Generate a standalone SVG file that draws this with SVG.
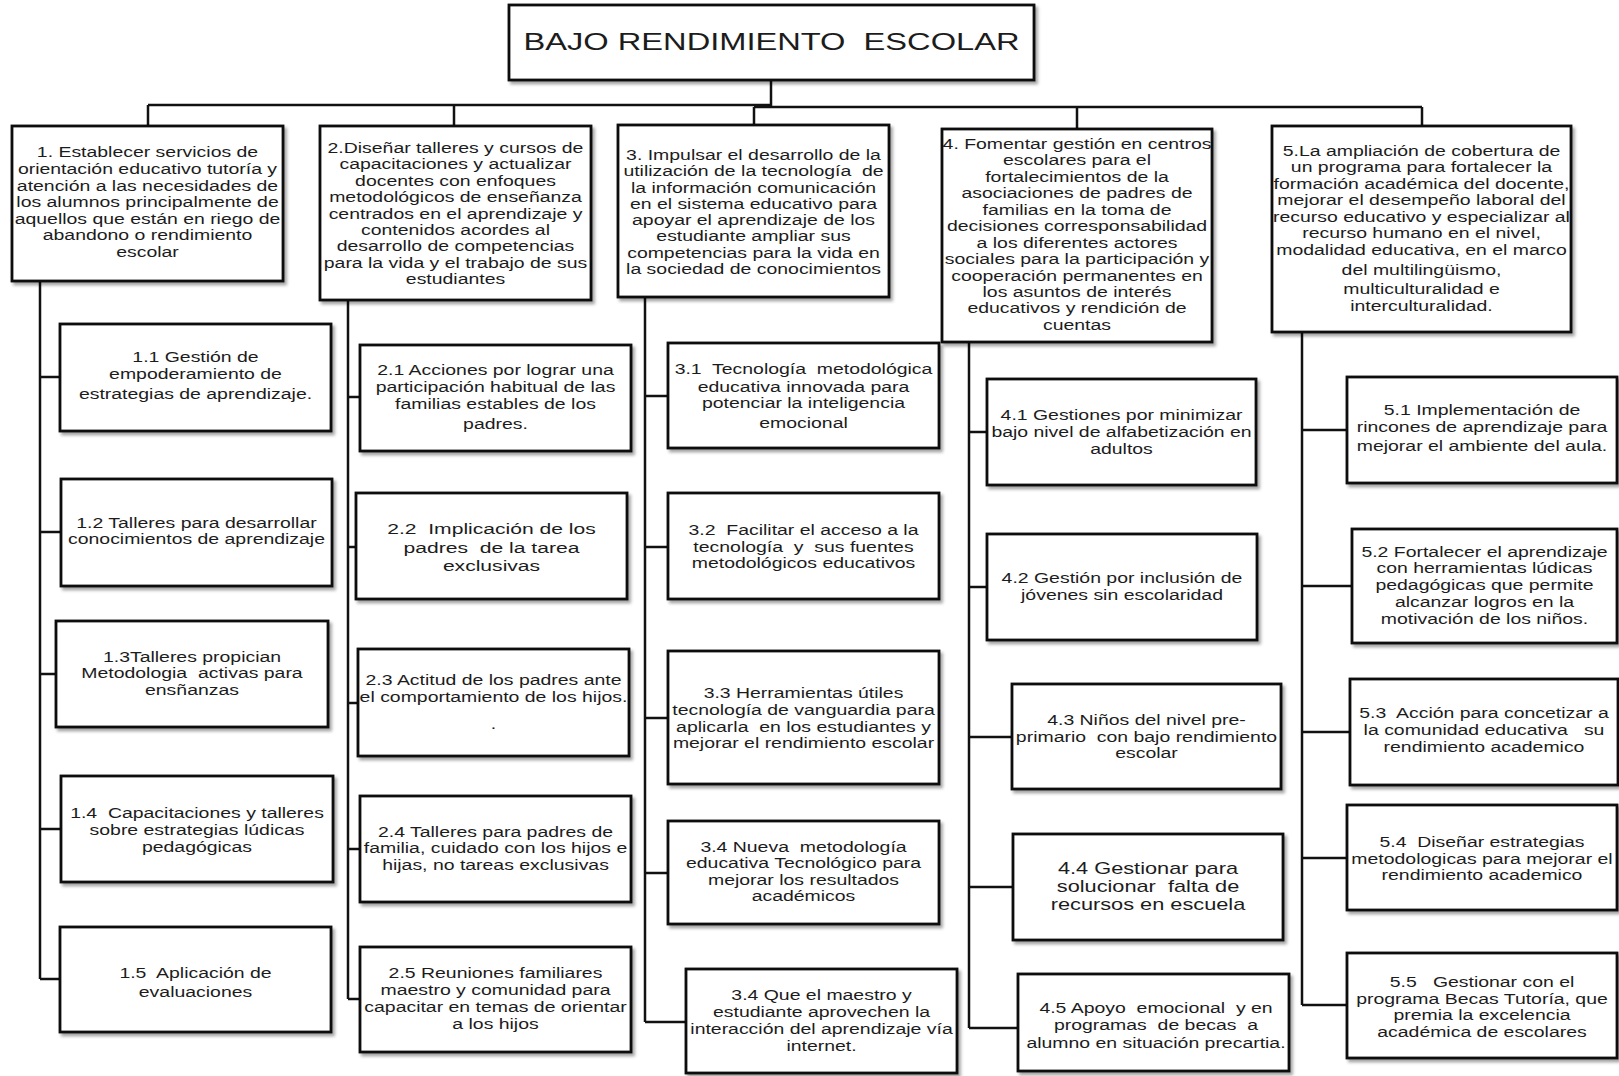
<svg xmlns="http://www.w3.org/2000/svg" width="1619" height="1076" viewBox="0 0 1619 1076">
<style>
.bx{fill:#fff;stroke:#111;stroke-width:2.8;filter:url(#sh)}
.ln{fill:none;stroke:#111;stroke-width:2.5}
text{font-family:"Liberation Sans",Arial,sans-serif;font-size:14.3px;fill:#1c1c1c;text-anchor:middle;white-space:pre}
.t1{font-size:24px}
.big{font-size:15.5px}
.big2{font-size:16px}
</style>
<defs>
<filter id="sh" x="-5%" y="-5%" width="115%" height="120%">
<feDropShadow dx="2.5" dy="3" stdDeviation="1.5" flood-color="#000" flood-opacity="0.35"/>
</filter>
</defs>
<rect width="1619" height="1076" fill="#fff"/>

<g id="connectors">
<path class="ln" d="M771,80V107M148,105H771M754,107H1422M148,105V126M454,105V126M754,107V125M1077,107V129M1422,107V126"/>
<path class="ln" d="M40,281V979M40,377H60M40,532H61M40,674H56M40,829H61M40,979H60"/>
<path class="ln" d="M348,300V999M348,397H360M348,547H356M348,703H358M348,849H360M348,999H360"/>
<path class="ln" d="M645,297V1022M645,396H668M645,547H668M645,718H668M645,873H668M645,1022H686"/>
<path class="ln" d="M969,342V1028M969,432H987M969,587H987M969,737H1012M969,887H1013M969,1028H1018"/>
<path class="ln" d="M1302,332V1005M1302,430H1347M1302,586H1352M1302,732H1350M1302,858H1347M1302,1005H1347"/>
</g>

<g id="root">
<rect class="bx" x="509" y="5" width="525" height="75"/>
<g transform="translate(771.5,0) scale(1.36,1)"><text class="t1" x="0" y="50">BAJO RENDIMIENTO  ESCOLAR</text></g>
</g>

<g id="n1">
<rect class="bx" x="12" y="126" width="271" height="155"/>
<g transform="translate(147.5,0) scale(1.36,1)">
<text x="0" y="157">1. Establecer servicios de</text>
<text x="0" y="174">orientación educativo tutoría y</text>
<text x="0" y="191">atención a las necesidades de</text>
<text x="0" y="207">los alumnos principalmente de</text>
<text x="0" y="224">aquellos que están en riego de</text>
<text x="0" y="240">abandono o rendimiento</text>
<text x="0" y="257">escolar</text>
</g>
</g>

<g id="n2">
<rect class="bx" x="320" y="126" width="271" height="174"/>
<g transform="translate(455.5,0) scale(1.36,1)">
<text x="0" y="153">2.Diseñar talleres y cursos de</text>
<text x="0" y="169.4">capacitaciones y actualizar</text>
<text x="0" y="185.8">docentes con enfoques</text>
<text x="0" y="202.2">metodológicos de enseñanza</text>
<text x="0" y="218.6">centrados en el aprendizaje y</text>
<text x="0" y="235">contenidos acordes al</text>
<text x="0" y="251.4">desarrollo de competencias</text>
<text x="0" y="267.8">para la vida y el trabajo de sus</text>
<text x="0" y="284.2">estudiantes</text>
</g>
</g>

<g id="n3">
<rect class="bx" x="618" y="125" width="271" height="172"/>
<g transform="translate(753.5,0) scale(1.36,1)">
<text x="0" y="160">3. Impulsar el desarrollo de la</text>
<text x="0" y="176.3">utilización de la tecnología  de</text>
<text x="0" y="192.6">la información comunicación</text>
<text x="0" y="208.9">en el sistema educativo para</text>
<text x="0" y="225.2">apoyar el aprendizaje de los</text>
<text x="0" y="241.5">estudiante ampliar sus</text>
<text x="0" y="257.8">competencias para la vida en</text>
<text x="0" y="274.1">la sociedad de conocimientos</text>
</g>
</g>

<g id="n4">
<rect class="bx" x="942" y="129" width="270" height="213"/>
<g transform="translate(1077,0) scale(1.36,1)">
<text x="0" y="149">4. Fomentar gestión en centros</text>
<text x="0" y="165.45">escolares para el</text>
<text x="0" y="181.9">fortalecimientos de la</text>
<text x="0" y="198.35">asociaciones de padres de</text>
<text x="0" y="214.8">familias en la toma de</text>
<text x="0" y="231.25">decisiones corresponsabilidad</text>
<text x="0" y="247.7">a los diferentes actores</text>
<text x="0" y="264.15">sociales para la participación y</text>
<text x="0" y="280.6">cooperación permanentes en</text>
<text x="0" y="297.05">los asuntos de interés</text>
<text x="0" y="313.5">educativos y rendición de</text>
<text x="0" y="329.95">cuentas</text>
</g>
</g>

<g id="n5">
<rect class="bx" x="1272" y="126" width="299" height="206"/>
<g transform="translate(1421.5,0) scale(1.36,1)">
<text x="0" y="156">5.La ampliación de cobertura de</text>
<text x="0" y="172.5">un programa para fortalecer la</text>
<text x="0" y="189">formación académica del docente,</text>
<text x="0" y="205.5">mejorar el desempeño laboral del</text>
<text x="0" y="222">recurso educativo y especializar al</text>
<text x="0" y="238.5">recurso humano en el nivel,</text>
<text x="0" y="255">modalidad educativa, en el marco</text>
<text x="0" y="275">del multilingüismo,</text>
<text x="0" y="294">multiculturalidad e</text>
<text x="0" y="311">interculturalidad.</text>
</g>
</g>

<g id="n1_1">
<rect class="bx" x="60" y="324" width="271" height="107"/>
<g transform="translate(195.5,0) scale(1.36,1)">
<text x="0" y="362">1.1 Gestión de</text>
<text x="0" y="379">empoderamiento de</text>
<text x="0" y="399">estrategias de aprendizaje.</text>
</g>
</g>
<g id="n1_2">
<rect class="bx" x="61" y="479" width="271" height="107"/>
<g transform="translate(196.5,0) scale(1.36,1)">
<text x="0" y="528">1.2 Talleres para desarrollar</text>
<text x="0" y="544">conocimientos de aprendizaje</text>
</g>
</g>
<g id="n1_3">
<rect class="bx" x="56" y="621" width="272" height="106"/>
<g transform="translate(192,0) scale(1.36,1)">
<text x="0" y="662">1.3Talleres propician</text>
<text x="0" y="678.5">Metodologia  activas para</text>
<text x="0" y="695">ensñanzas</text>
</g>
</g>
<g id="n1_4">
<rect class="bx" x="61" y="776" width="272" height="106"/>
<g transform="translate(197,0) scale(1.36,1)">
<text x="0" y="818">1.4  Capacitaciones y talleres</text>
<text x="0" y="835">sobre estrategias lúdicas</text>
<text x="0" y="852">pedagógicas</text>
</g>
</g>
<g id="n1_5">
<rect class="bx" x="60" y="927" width="271" height="105"/>
<g transform="translate(195.5,0) scale(1.36,1)">
<text x="0" y="978">1.5  Aplicación de</text>
<text x="0" y="997">evaluaciones</text>
</g>
</g>

<g id="n2_1">
<rect class="bx" x="360" y="345" width="271" height="106"/>
<g transform="translate(495.5,0) scale(1.36,1)">
<text x="0" y="375">2.1 Acciones por lograr una</text>
<text x="0" y="392">participación habitual de las</text>
<text x="0" y="409">familias estables de los</text>
<text x="0" y="429">padres.</text>
</g>
</g>
<g id="n2_2">
<rect class="bx" x="356" y="493" width="271" height="106"/>
<g transform="translate(491.5,0) scale(1.36,1)">
<text class="big" x="0" y="534.5">2.2  Implicación de los</text>
<text class="big" x="0" y="553">padres  de la tarea</text>
<text class="big" x="0" y="571.5">exclusivas</text>
</g>
</g>
<g id="n2_3">
<rect class="bx" x="358" y="649" width="271" height="107"/>
<g transform="translate(493.5,0) scale(1.36,1)">
<text x="0" y="685">2.3 Actitud de los padres ante</text>
<text x="0" y="702">el comportamiento de los hijos.</text>
<text x="0" y="729">.</text>
</g>
</g>
<g id="n2_4">
<rect class="bx" x="360" y="796" width="271" height="106"/>
<g transform="translate(495.5,0) scale(1.36,1)">
<text x="0" y="837">2.4 Talleres para padres de</text>
<text x="0" y="853.5">familia, cuidado con los hijos e</text>
<text x="0" y="870">hijas, no tareas exclusivas</text>
</g>
</g>
<g id="n2_5">
<rect class="bx" x="360" y="947" width="271" height="105"/>
<g transform="translate(495.5,0) scale(1.36,1)">
<text x="0" y="978">2.5 Reuniones familiares</text>
<text x="0" y="995">maestro y comunidad para</text>
<text x="0" y="1012">capacitar en temas de orientar</text>
<text x="0" y="1029">a los hijos</text>
</g>
</g>

<g id="n3_1">
<rect class="bx" x="668" y="343" width="271" height="105"/>
<g transform="translate(803.5,0) scale(1.36,1)">
<text x="0" y="374">3.1  Tecnología  metodológica</text>
<text x="0" y="392">educativa innovada para</text>
<text x="0" y="408">potenciar la inteligencia</text>
<text x="0" y="428">emocional</text>
</g>
</g>
<g id="n3_2">
<rect class="bx" x="668" y="493" width="271" height="106"/>
<g transform="translate(803.5,0) scale(1.36,1)">
<text x="0" y="535">3.2  Facilitar el acceso a la</text>
<text x="0" y="552">tecnología  y  sus fuentes</text>
<text x="0" y="568">metodológicos educativos</text>
</g>
</g>
<g id="n3_3">
<rect class="bx" x="668" y="651" width="271" height="133"/>
<g transform="translate(803.5,0) scale(1.36,1)">
<text x="0" y="698">3.3 Herramientas útiles</text>
<text x="0" y="715">tecnología de vanguardia para</text>
<text x="0" y="732">aplicarla  en los estudiantes y</text>
<text x="0" y="748.5">mejorar el rendimiento escolar</text>
</g>
</g>
<g id="n3_4a">
<rect class="bx" x="668" y="821" width="271" height="103"/>
<g transform="translate(803.5,0) scale(1.36,1)">
<text x="0" y="852">3.4 Nueva  metodología</text>
<text x="0" y="868.5">educativa Tecnológico para</text>
<text x="0" y="885">mejorar los resultados</text>
<text x="0" y="901">académicos</text>
</g>
</g>
<g id="n3_4b">
<rect class="bx" x="686" y="969" width="271" height="104"/>
<g transform="translate(821.5,0) scale(1.36,1)">
<text x="0" y="1000">3.4 Que el maestro y</text>
<text x="0" y="1017">estudiante aprovechen la</text>
<text x="0" y="1034">interacción del aprendizaje vía</text>
<text x="0" y="1051">internet.</text>
</g>
</g>

<g id="n4_1">
<rect class="bx" x="987" y="379" width="269" height="106"/>
<g transform="translate(1121.5,0) scale(1.36,1)">
<text x="0" y="420">4.1 Gestiones por minimizar</text>
<text x="0" y="437">bajo nivel de alfabetización en</text>
<text x="0" y="454">adultos</text>
</g>
</g>
<g id="n4_2">
<rect class="bx" x="987" y="534" width="270" height="106"/>
<g transform="translate(1122,0) scale(1.36,1)">
<text x="0" y="583">4.2 Gestión por inclusión de</text>
<text x="0" y="600">jóvenes sin escolaridad</text>
</g>
</g>
<g id="n4_3">
<rect class="bx" x="1012" y="684" width="269" height="105"/>
<g transform="translate(1146.5,0) scale(1.36,1)">
<text x="0" y="725">4.3 Niños del nivel pre-</text>
<text x="0" y="742">primario  con bajo rendimiento</text>
<text x="0" y="758">escolar</text>
</g>
</g>
<g id="n4_4">
<rect class="bx" x="1013" y="834" width="270" height="106"/>
<g transform="translate(1148,0) scale(1.36,1)">
<text class="big2" x="0" y="874">4.4 Gestionar para</text>
<text class="big2" x="0" y="892">solucionar  falta de</text>
<text class="big2" x="0" y="910">recursos en escuela</text>
</g>
</g>
<g id="n4_5">
<rect class="bx" x="1018" y="974" width="271" height="97"/>
<g transform="translate(1156,0) scale(1.36,1)">
<text x="0" y="1013">4.5 Apoyo  emocional  y en</text>
<text x="0" y="1030">programas  de becas  a</text>
<text x="0" y="1048">alumno en situación precartia.</text>
</g>
</g>

<g id="n5_1">
<rect class="bx" x="1347" y="377" width="270" height="106"/>
<g transform="translate(1482,0) scale(1.36,1)">
<text x="0" y="415">5.1 Implementación de</text>
<text x="0" y="432">rincones de aprendizaje para</text>
<text x="0" y="451">mejorar el ambiente del aula.</text>
</g>
</g>
<g id="n5_2">
<rect class="bx" x="1352" y="529" width="265" height="114"/>
<g transform="translate(1484.5,0) scale(1.36,1)">
<text x="0" y="557">5.2 Fortalecer el aprendizaje</text>
<text x="0" y="573.5">con herramientas lúdicas</text>
<text x="0" y="590">pedagógicas que permite</text>
<text x="0" y="607">alcanzar logros en la</text>
<text x="0" y="624">motivación de los niños.</text>
</g>
</g>
<g id="n5_3">
<rect class="bx" x="1350" y="679" width="268" height="106"/>
<g transform="translate(1484,0) scale(1.36,1)">
<text x="0" y="718">5.3  Acción para concetizar a</text>
<text x="0" y="735">la comunidad educativa   su</text>
<text x="0" y="752">rendimiento academico</text>
</g>
</g>
<g id="n5_4">
<rect class="bx" x="1347" y="805" width="270" height="105"/>
<g transform="translate(1482,0) scale(1.36,1)">
<text x="0" y="847">5.4  Diseñar estrategias</text>
<text x="0" y="864">metodologicas para mejorar el</text>
<text x="0" y="880">rendimiento academico</text>
</g>
</g>
<g id="n5_5">
<rect class="bx" x="1347" y="953" width="270" height="105"/>
<g transform="translate(1482,0) scale(1.36,1)">
<text x="0" y="987">5.5   Gestionar con el</text>
<text x="0" y="1004">programa Becas Tutoría, que</text>
<text x="0" y="1020">premia la excelencia</text>
<text x="0" y="1037">académica de escolares</text>
</g>
</g>
</svg>
